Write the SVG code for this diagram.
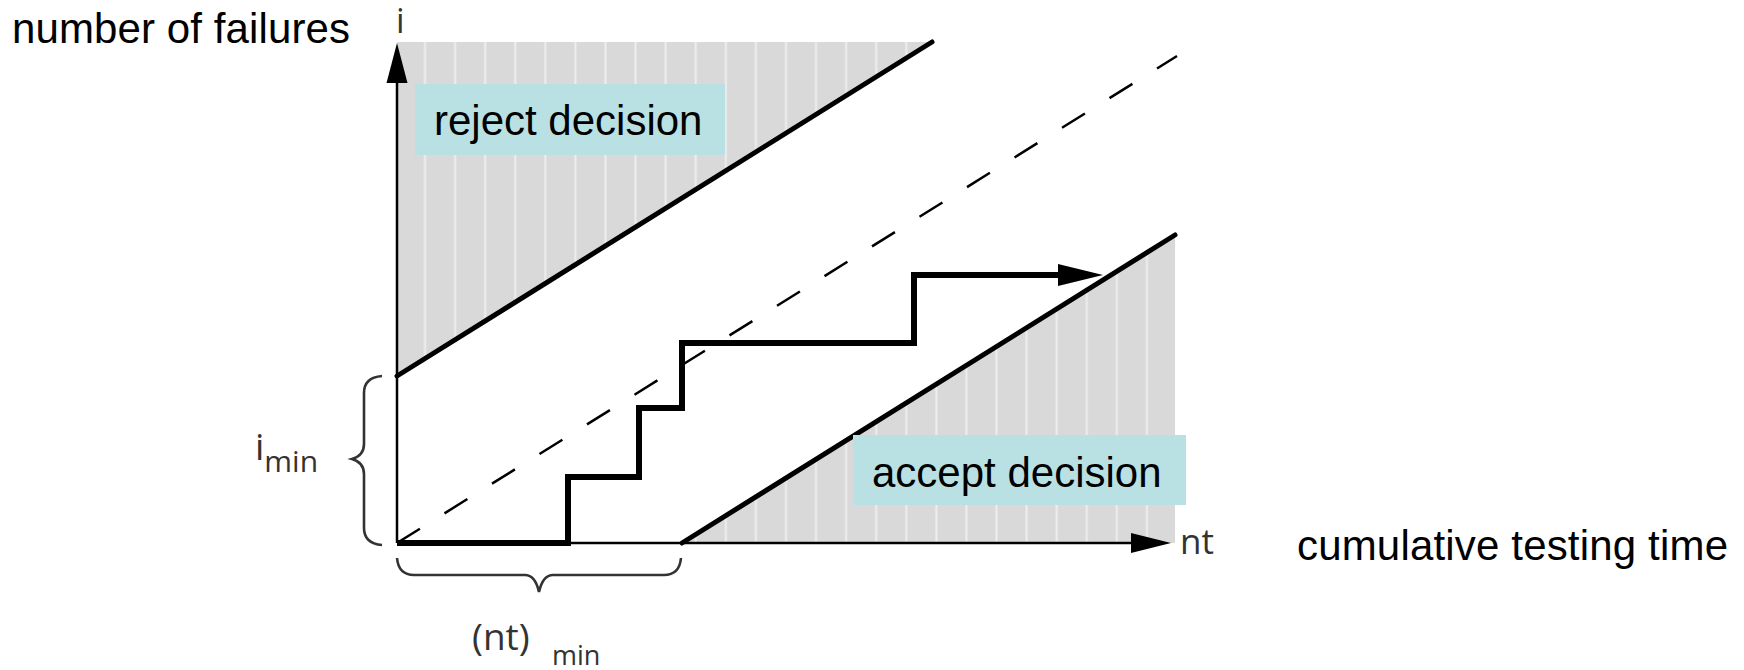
<svg xmlns="http://www.w3.org/2000/svg" width="1744" height="670" viewBox="0 0 1744 670">
<style>
.lbl{font-family:"Liberation Sans",Arial,sans-serif;font-size:42px;fill:#000}
.sm{font-family:"Open Sans","Noto Sans",sans-serif;fill:#333}
.axis{stroke:#000;stroke-width:2.5;fill:none}
.bound{stroke:#000;stroke-width:5;fill:none;stroke-linecap:round}
.brace{stroke:#333;stroke-width:2.6;fill:none}
.box{fill:#b9e0e3}
</style>
<defs>
<pattern id="stripes" patternUnits="userSpaceOnUse" x="410" y="0" width="30.08" height="10">
<rect width="30.08" height="10" fill="#d9d9d9"/>
<rect x="14" width="2" height="10" fill="#eeeeee"/>
</pattern>
</defs>
<g id="regions">
<polygon points="397,42 932,42 397,376" fill="url(#stripes)"/>
<polygon points="682,543 1175,235 1175,543" fill="url(#stripes)"/>
</g>
<g id="connectors">
<line class="bound" x1="397" y1="376" x2="932" y2="42"/>
<line class="bound" x1="682" y1="543" x2="1175" y2="235"/>
<line x1="397" y1="543" x2="1177" y2="56" stroke="#000" stroke-width="2.5" stroke-dasharray="27 29"/>
<line class="axis" x1="397" y1="543" x2="397" y2="80"/>
<polygon points="397,43 386.5,83 407.5,83" fill="#000"/>
<line class="axis" x1="397" y1="543" x2="1135" y2="543"/>
<polygon points="1171,543 1131,533 1131,553" fill="#000"/>
<polyline points="397,543 568,543 568,477 639,477 639,408 682,408 682,343 914,343 914,275 1062,275" fill="none" stroke="#000" stroke-width="6" stroke-linejoin="miter"/>
<polygon points="1103,275 1058,264 1058,286" fill="#000"/>
<path class="brace" d="M382,376 C370,377 364,383 364,393 L364,444 C364,452 359,457 352,459 C359,461 364,466 364,474 L364,528 C364,538 370,544 382,545"/>
<path class="brace" d="M397,558 C398,569 404,575 414,575 L525,575 C533,575 537,583 539,592 C541,583 545,575 553,575 L664,575 C674,575 680,569 681,558"/>
</g>
<g id="reject">
<rect class="box" x="415" y="84" width="310" height="71"/>
<text class="lbl" x="434" y="135">reject decision</text>
</g>
<g id="accept">
<rect class="box" x="853" y="435" width="333" height="70"/>
<text class="lbl" x="872" y="487">accept decision</text>
</g>
<g id="labels">
<text class="lbl" x="12" y="43" textLength="338">number of failures</text>
<text class="lbl" x="1297" y="560" textLength="431">cumulative testing time</text>
<text class="sm" x="396" y="33" font-size="34">i</text>
<text class="sm" x="1180" y="554" font-size="35">nt</text>
<text class="sm" x="255" y="460" font-size="37">i<tspan font-size="30" dy="12">min</tspan></text>
<text class="sm" x="472" y="650" font-size="37">(nt)</text>
<text class="sm" x="552" y="665" font-size="27">min</text>
</g>
</svg>
